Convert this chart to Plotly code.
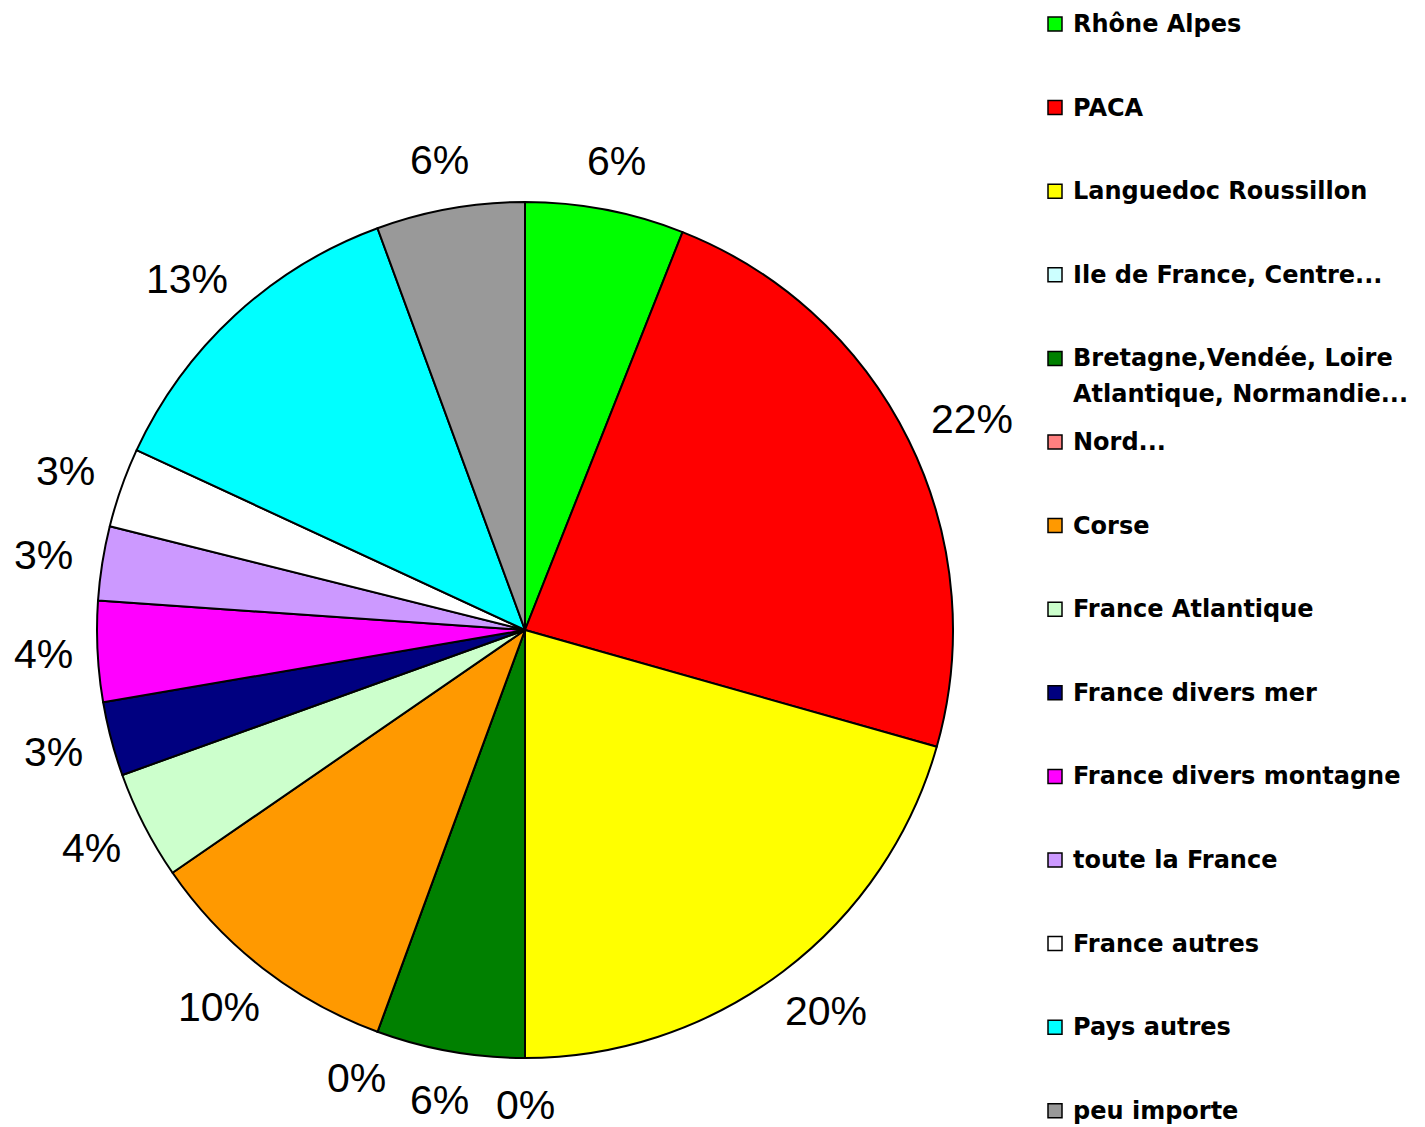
import math
import plotly.graph_objects as go

categories = ["Rhône Alpes", "PACA", "Languedoc Roussillon", "Ile de France, Centre...",
              "Bretagne,Vendée, Loire<br>Atlantique, Normandie...", "Nord...", "Corse",
              "France Atlantique", "France divers mer", "France divers montagne",
              "toute la France", "France autres", "Pays autres", "peu importe"]
values = [6.0, 23.4, 20.6, 0.0, 5.6, 0.0, 9.8, 4.1, 2.8, 3.8, 2.8, 3.0, 12.5, 5.6]
pct_labels = ["6%", "22%", "20%", "0%", "6%", "0%", "10%", "4%", "3%", "4%", "3%", "3%", "13%", "6%"]
colors = ["#00FF00", "#FF0000", "#FFFF00", "#CCFFFF", "#008000", "#FF8080", "#FF9900",
          "#CCFFCC", "#000080", "#FF00FF", "#CC99FF", "#FFFFFF", "#00FFFF", "#999999"]

W, H = 1425, 1127
OFF = 8  # page body offset
FONT = "Liberation Sans, Arial, sans-serif"
LEGFONT = "DejaVu Sans, sans-serif"
PCT_SIZE = 41
LEG_SIZE = 24


def px(X):
    return (X - OFF) / W


def py(Y):
    return 1 - (Y - OFF) / H


# pie geometry (in screen pixels)
CX, CY, R = 525, 630, 428

fig = go.Figure()
fig.add_trace(go.Pie(
    labels=categories, values=values, textinfo="none",
    marker=dict(colors=colors, line=dict(color="black", width=2)),
    sort=False, direction="clockwise", rotation=0,
    domain=dict(x=[px(CX - R), px(CX + R)], y=[py(CY + R), py(CY - R)]),
    showlegend=False, hoverinfo="label+percent",
))

# percentage labels outside each slice (positions derived from cumulative values)
total = sum(values)
cum = 0.0
GAP = 30
for v, lab in zip(values, pct_labels):
    theta = 2 * math.pi * (cum + v / 2) / total
    cum += v
    s, c = math.sin(theta), math.cos(theta)
    w = PCT_SIZE * (0.556 * (len(lab) - 1) + 0.889)
    h = PCT_SIZE * 0.95
    x = CX + (R + GAP) * s + w / 2 * s
    y = CY - (R + GAP) * c - h / 2 * c
    x = max(x, 14 + w / 2)
    fig.add_annotation(xref="paper", yref="paper", x=px(x), y=py(min(y, 1105)),
                       xanchor="center", yanchor="middle", text=lab, showarrow=False,
                       font=dict(family=FONT, size=PCT_SIZE, color="black"))

# Legend drawn manually
leg_y0, leg_step, line_gap = 24, 83.6, 36
for i, (cat, col) in enumerate(zip(categories, colors)):
    yc = leg_y0 + i * leg_step
    fig.add_shape(type="rect", xref="paper", yref="paper",
                  x0=px(1048), x1=px(1062), y0=py(yc + 7), y1=py(yc - 7),
                  fillcolor=col, line=dict(color="black", width=1.5))
    for j, line in enumerate(cat.split("<br>")):
        fig.add_annotation(xref="paper", yref="paper", x=px(1071), y=py(yc + j * line_gap),
                           xanchor="left", yanchor="middle",
                           text="<b>" + line + "</b>", showarrow=False, align="left",
                           font=dict(family=LEGFONT, size=LEG_SIZE, color="black"))

fig.update_layout(width=W, height=H,
                  margin=dict(l=0, r=0, t=0, b=0, pad=0, autoexpand=False),
                  paper_bgcolor="white", plot_bgcolor="white", showlegend=False)
fig.write_html("out.html")
